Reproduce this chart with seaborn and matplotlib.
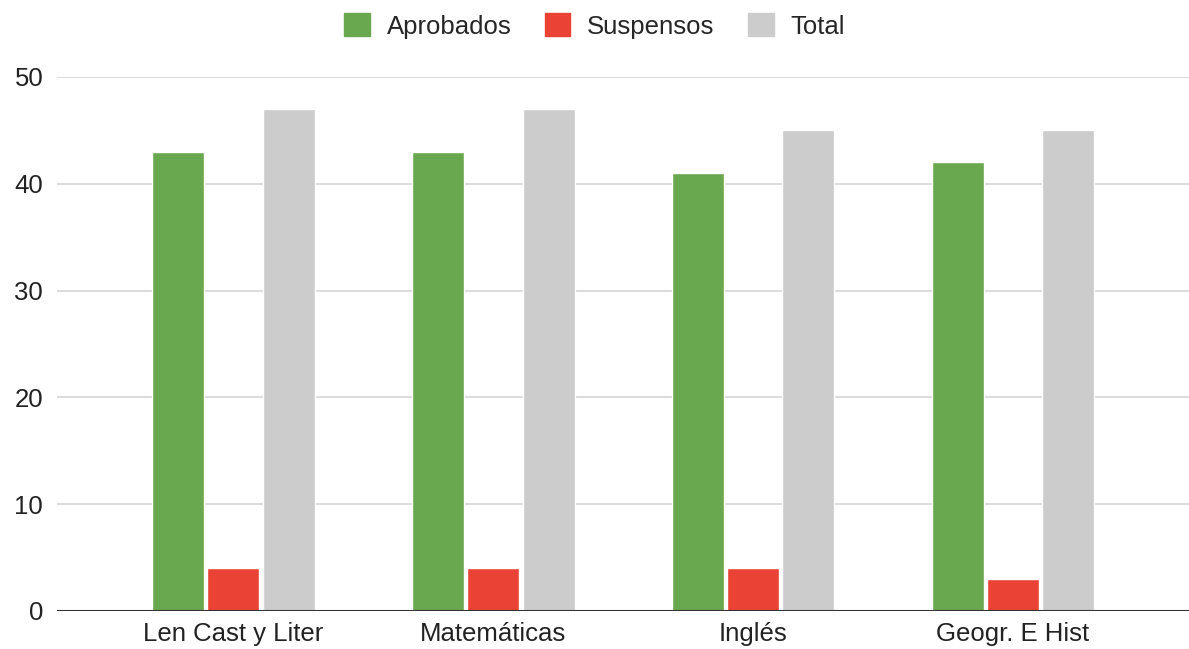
import pandas as pd
import seaborn as sns
import matplotlib.pyplot as plt

asignaturas = ['Len Cast y Liter', 'Matemáticas', 'Inglés', 'Geogr. E Hist']
aprobados = [43, 43, 41, 42]
suspensos = [4, 4, 4, 3]
total = [47, 47, 45, 45]

series = ['Aprobados', 'Suspensos', 'Total']
colores = ['#6aa84f', '#ea4335', '#cccccc']

df = pd.DataFrame({'asignatura': asignaturas, 'Aprobados': aprobados,
                   'Suspensos': suspensos, 'Total': total})
df = df.melt(id_vars='asignatura', var_name='serie', value_name='valor')

sns.set_style('white')
plt.rcParams['font.family'] = ['Liberation Sans', 'DejaVu Sans']

fig = plt.figure(figsize=(11.89, 6.49), dpi=100)
ax = fig.add_axes([0.048, 0.0586, 0.952, 0.8228])

sns.barplot(data=df, x='asignatura', y='valor', hue='serie', hue_order=series,
            palette=colores, width=0.64, gap=0.0625, saturation=1, ax=ax,
            legend=False, zorder=3)

ax.set_ylim(0, 50)
ax.set_xlim(-0.677, 3.677)
ax.set_yticks([0, 10, 20, 30, 40, 50])
ax.grid(axis='y', color='#d9d9d9', linewidth=1.3, zorder=0)
ax.axhline(0, color='#333333', linewidth=1.5, zorder=4)
for s in ax.spines.values():
    s.set_visible(False)
ax.tick_params(axis='both', length=0, labelsize=18.5, colors='#222222')
ax.tick_params(axis='y', pad=10)
ax.tick_params(axis='x', pad=8)
ax.set_xlabel('')
ax.set_ylabel('')

handles = [plt.Rectangle((0, 0), 1, 1, color=c) for c in colores]
fig.legend(handles, series, loc='center', bbox_to_anchor=(0.5, 0.96), ncol=3,
           frameon=False, fontsize=18.5, handlelength=1.0, handleheight=1.0,
           columnspacing=1.3, handletextpad=0.65)

fig.savefig('out.png', dpi=100)
